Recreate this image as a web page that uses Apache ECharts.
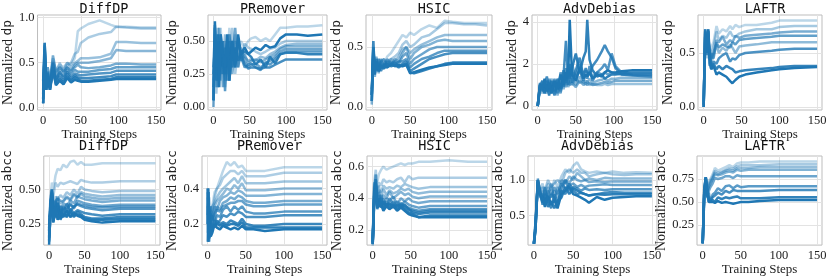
<!DOCTYPE html>
<html><head><meta charset="utf-8">
<script src="https://cdn.jsdelivr.net/npm/echarts@6/dist/echarts.min.js"></script>
<style>html,body{margin:0;padding:0;background:#fff}#c{width:830px;height:277px}</style>
</head><body><div id="c"></div><script>
// ---------- DATA ----------
const xTicks = [0, 50, 100, 150];

const diffdpDpSteps = [0,2,4,6,9,13,17,22,27,32,37,42,46,50,60,75,90,97,110,130,150];
const diffdpDpLines = [
 [0.1,0.6,0.35,0.45,0.3,0.52,0.42,0.48,0.45,0.5,0.48,0.55,0.85,0.88,0.93,0.97,0.92,0.9,0.9,0.89,0.89],
 [0.05,0.7,0.3,0.4,0.25,0.55,0.38,0.5,0.4,0.47,0.5,0.6,0.62,0.72,0.78,0.82,0.84,0.9,0.89,0.88,0.88],
 [0.1,0.65,0.25,0.35,0.3,0.5,0.35,0.45,0.42,0.5,0.45,0.5,0.52,0.55,0.55,0.56,0.6,0.73,0.73,0.72,0.72],
 [0.05,0.7,0.2,0.3,0.25,0.48,0.32,0.42,0.38,0.45,0.4,0.48,0.5,0.5,0.5,0.52,0.55,0.64,0.63,0.63,0.63],
 [0.15,0.72,0.3,0.45,0.3,0.58,0.4,0.45,0.4,0.45,0.42,0.45,0.48,0.45,0.44,0.45,0.47,0.49,0.49,0.48,0.48],
 [0.2,0.6,0.22,0.4,0.2,0.45,0.32,0.38,0.35,0.42,0.38,0.42,0.4,0.4,0.4,0.42,0.43,0.45,0.45,0.45,0.45],
 [0.1,0.68,0.2,0.35,0.25,0.5,0.3,0.4,0.33,0.4,0.35,0.38,0.37,0.36,0.37,0.38,0.39,0.41,0.41,0.41,0.41],
 [0.05,0.55,0.2,0.3,0.22,0.42,0.28,0.35,0.3,0.38,0.32,0.36,0.34,0.33,0.33,0.34,0.35,0.37,0.37,0.37,0.37],
 [0.3,0.72,0.25,0.38,0.2,0.4,0.26,0.32,0.28,0.35,0.3,0.34,0.32,0.3,0.3,0.31,0.32,0.34,0.34,0.34,0.34],
 [0.05,0.65,0.2,0.32,0.2,0.45,0.25,0.3,0.26,0.33,0.28,0.31,0.3,0.29,0.29,0.3,0.31,0.32,0.32,0.32,0.32]
];

const premoverDpSteps = [0,2,4,6,8,10,13,16,19,22,26,30,34,38,43,48,52,58,65,72,78,85,92,100,115,130,150];
const premoverDpLines = [
 [0.3,0.6,0.2,0.55,0.3,0.6,0.25,0.5,0.35,0.6,0.4,0.55,0.35,0.5,0.45,0.5,0.52,0.53,0.5,0.52,0.5,0.55,0.6,0.6,0.61,0.61,0.62],
 [0.2,0.5,0.1,0.4,0.5,0.2,0.45,0.15,0.5,0.3,0.6,0.25,0.45,0.35,0.48,0.45,0.44,0.42,0.4,0.42,0.44,0.45,0.48,0.5,0.5,0.5,0.5],
 [0.1,0.55,0.25,0.6,0.2,0.45,0.3,0.55,0.25,0.55,0.3,0.5,0.3,0.45,0.38,0.35,0.36,0.35,0.38,0.37,0.4,0.42,0.45,0.47,0.48,0.48,0.48],
 [0.3,0.45,0.15,0.35,0.6,0.25,0.5,0.2,0.4,0.55,0.25,0.45,0.4,0.35,0.4,0.33,0.35,0.36,0.34,0.36,0.38,0.4,0.44,0.46,0.46,0.46,0.46],
 [0.0,0.6,0.35,0.2,0.45,0.55,0.15,0.4,0.3,0.45,0.35,0.6,0.3,0.42,0.35,0.3,0.32,0.33,0.3,0.33,0.35,0.38,0.42,0.44,0.44,0.44,0.44],
 [0.15,0.4,0.5,0.15,0.35,0.3,0.5,0.12,0.45,0.35,0.5,0.3,0.5,0.38,0.3,0.32,0.33,0.3,0.28,0.34,0.32,0.36,0.4,0.42,0.42,0.42,0.42],
 [0.25,0.62,0.2,0.45,0.3,0.5,0.25,0.45,0.2,0.5,0.3,0.45,0.35,0.4,0.32,0.29,0.3,0.3,0.29,0.3,0.3,0.32,0.34,0.36,0.36,0.36,0.36],
 [0.05,0.5,0.3,0.55,0.2,0.5,0.35,0.25,0.5,0.2,0.45,0.35,0.5,0.4,0.42,0.4,0.38,0.32,0.36,0.3,0.38,0.33,0.4,0.41,0.41,0.4,0.4],
 [0.05,0.65,0.3,0.5,0.15,0.55,0.4,0.3,0.55,0.2,0.5,0.3,0.55,0.4,0.45,0.4,0.42,0.45,0.43,0.47,0.45,0.46,0.52,0.55,0.55,0.54,0.55]
];

const hsicDpSteps = [0,2,4,6,9,12,16,20,25,30,35,40,45,50,55,65,75,85,95,105,120,135,150];
const hsicDpLines = [
 [0.1,0.5,0.3,0.4,0.3,0.4,0.35,0.42,0.45,0.5,0.55,0.6,0.58,0.62,0.6,0.65,0.68,0.66,0.72,0.71,0.7,0.7,0.7],
 [0.05,0.45,0.28,0.38,0.32,0.38,0.36,0.38,0.4,0.42,0.45,0.52,0.55,0.5,0.52,0.58,0.6,0.65,0.7,0.7,0.69,0.69,0.68],
 [0.1,0.55,0.3,0.35,0.4,0.32,0.38,0.36,0.4,0.38,0.42,0.48,0.5,0.45,0.48,0.52,0.55,0.58,0.6,0.6,0.6,0.6,0.6],
 [0.02,0.5,0.25,0.42,0.28,0.4,0.33,0.38,0.35,0.4,0.38,0.45,0.5,0.4,0.45,0.5,0.52,0.55,0.56,0.55,0.55,0.55,0.55],
 [0.15,0.42,0.35,0.3,0.4,0.35,0.32,0.4,0.36,0.38,0.36,0.42,0.45,0.36,0.4,0.44,0.48,0.5,0.5,0.5,0.5,0.5,0.5],
 [0.05,0.55,0.28,0.36,0.3,0.38,0.4,0.35,0.38,0.35,0.38,0.38,0.4,0.33,0.36,0.4,0.42,0.45,0.47,0.47,0.47,0.47,0.47],
 [0.1,0.48,0.3,0.4,0.35,0.3,0.36,0.33,0.35,0.37,0.34,0.36,0.38,0.3,0.32,0.36,0.4,0.42,0.44,0.45,0.45,0.45,0.45],
 [0.05,0.5,0.32,0.35,0.3,0.35,0.32,0.36,0.34,0.35,0.33,0.35,0.36,0.29,0.28,0.3,0.32,0.34,0.36,0.37,0.37,0.37,0.37],
 [0.1,0.45,0.27,0.38,0.3,0.33,0.35,0.33,0.36,0.34,0.35,0.34,0.35,0.28,0.29,0.31,0.33,0.34,0.35,0.36,0.36,0.36,0.36]
];

const advdebiasDpSteps = [0,3,6,9,12,15,18,22,26,30,34,37,40,42,45,50,55,60,63,65,68,72,78,84,88,92,97,102,110,125,150];
const advdebiasDpLines = [
 [0,0.9,1.1,0.7,0.9,1.0,0.6,1.1,0.8,1.0,1.3,1.0,1.5,1.2,1.0,1.3,1.1,1.2,1.0,1.2,1.0,1.05,1.0,1.0,1.05,1.0,1.05,1.05,1.05,1.05,1.05],
 [0,1.0,0.6,1.1,0.9,0.7,1.3,1.0,0.5,1.2,0.8,1.4,0.9,1.1,1.3,1.0,1.4,1.1,1.2,1.1,1.3,1.1,1.2,1.25,1.3,1.2,1.3,1.3,1.35,1.35,1.35],
 [0,0.8,1.0,0.8,0.6,1.2,0.9,0.6,1.0,0.7,1.2,0.9,1.3,1.0,1.1,0.9,1.2,1.0,1.1,1.0,1.1,1.0,1.05,1.1,1.15,1.1,1.15,1.2,1.2,1.2,1.2],
 [0,1.05,0.8,1.2,0.7,1.3,0.8,1.0,1.2,0.6,1.4,1.1,1.8,1.3,1.6,1.4,2.0,1.5,1.7,1.5,1.6,1.4,1.6,1.5,1.6,1.5,1.6,1.55,1.5,1.5,1.5],
 [0,1.0,0.9,0.6,1.2,1.0,0.7,1.3,0.6,1.6,0.9,1.8,1.0,1.4,2.0,1.3,1.7,1.2,1.5,1.3,1.9,1.2,1.6,1.8,2.0,1.7,2.5,1.9,1.6,1.5,1.5],
 [0,1.1,0.7,1.0,1.4,0.8,1.0,0.5,1.1,0.9,1.5,3.1,1.3,2.0,1.1,1.7,2.3,1.4,1.8,1.6,1.5,1.9,2.2,2.6,2.9,2.6,2.3,1.8,1.5,1.45,1.4],
 [0,0.9,1.2,0.6,1.0,0.5,1.2,0.7,1.3,0.8,1.7,1.2,2.0,1.5,1.8,2.5,1.6,2.3,2.6,4.1,2.2,1.7,1.4,1.5,1.3,1.4,1.5,1.5,1.55,1.6,1.6],
 [0,1.0,0.8,1.3,0.7,1.1,0.6,1.2,0.8,1.5,1.0,1.6,1.4,4.1,1.5,1.2,1.8,1.3,1.5,1.4,1.6,1.3,1.5,1.4,1.6,1.7,1.6,1.6,1.65,1.7,1.7]
];

const laftrDpSteps = [0,2,4,6,8,10,13,17,20,25,30,35,38,42,47,55,70,90,100,120,150];
const laftrDpLines = [
 [0.05,0.65,0.5,0.7,0.45,0.55,0.6,0.75,0.68,0.72,0.7,0.75,0.72,0.76,0.74,0.76,0.76,0.78,0.8,0.8,0.8],
 [0.0,0.7,0.45,0.65,0.4,0.5,0.55,0.7,0.62,0.66,0.64,0.7,0.66,0.65,0.68,0.7,0.72,0.72,0.74,0.75,0.75],
 [0.05,0.6,0.52,0.68,0.45,0.4,0.48,0.58,0.5,0.55,0.52,0.58,0.55,0.5,0.56,0.57,0.58,0.6,0.6,0.6,0.6],
 [0.02,0.68,0.55,0.6,0.5,0.45,0.5,0.62,0.6,0.65,0.58,0.62,0.6,0.66,0.64,0.66,0.67,0.68,0.69,0.7,0.7],
 [0.0,0.72,0.5,0.72,0.38,0.5,0.45,0.6,0.55,0.58,0.56,0.55,0.6,0.58,0.62,0.63,0.64,0.65,0.66,0.66,0.66],
 [0.0,0.7,0.48,0.7,0.4,0.35,0.42,0.4,0.45,0.48,0.5,0.42,0.45,0.44,0.48,0.5,0.51,0.52,0.53,0.54,0.54],
 [0.02,0.72,0.5,0.7,0.45,0.38,0.4,0.35,0.38,0.35,0.38,0.36,0.35,0.32,0.33,0.34,0.35,0.36,0.37,0.38,0.38],
 [0.0,0.65,0.55,0.72,0.5,0.35,0.38,0.3,0.32,0.3,0.28,0.24,0.22,0.25,0.28,0.3,0.32,0.34,0.35,0.36,0.37]
];

const diffdpAbccSteps = [0,2,4,6,9,12,16,20,25,30,35,40,45,50,60,75,100,125,150];
const diffdpAbccLines = [
 [0.2,0.45,0.55,0.5,0.6,0.65,0.64,0.68,0.66,0.7,0.71,0.68,0.7,0.68,0.68,0.69,0.69,0.69,0.69],
 [0.15,0.4,0.5,0.45,0.55,0.52,0.55,0.54,0.55,0.56,0.55,0.54,0.57,0.56,0.55,0.55,0.56,0.56,0.56],
 [0.2,0.45,0.48,0.35,0.45,0.42,0.46,0.44,0.48,0.46,0.5,0.47,0.52,0.5,0.49,0.48,0.49,0.49,0.49],
 [0.25,0.35,0.5,0.3,0.4,0.45,0.4,0.42,0.44,0.42,0.46,0.44,0.48,0.47,0.46,0.45,0.46,0.46,0.46],
 [0.2,0.42,0.47,0.33,0.42,0.43,0.42,0.41,0.45,0.43,0.47,0.45,0.47,0.45,0.44,0.43,0.44,0.44,0.44],
 [0.12,0.4,0.45,0.32,0.38,0.44,0.35,0.4,0.38,0.42,0.4,0.45,0.44,0.43,0.42,0.41,0.42,0.42,0.42],
 [0.3,0.32,0.5,0.28,0.35,0.4,0.32,0.38,0.35,0.4,0.36,0.42,0.41,0.4,0.39,0.38,0.39,0.39,0.39],
 [0.16,0.36,0.49,0.29,0.37,0.41,0.33,0.37,0.36,0.39,0.37,0.4,0.39,0.385,0.375,0.37,0.375,0.375,0.375],
 [0.18,0.42,0.45,0.3,0.42,0.3,0.38,0.33,0.4,0.34,0.38,0.39,0.38,0.37,0.36,0.35,0.36,0.36,0.36],
 [0.15,0.3,0.48,0.27,0.35,0.38,0.3,0.36,0.32,0.36,0.33,0.35,0.34,0.33,0.32,0.31,0.32,0.32,0.32],
 [0.22,0.38,0.5,0.32,0.3,0.4,0.28,0.33,0.3,0.35,0.3,0.34,0.32,0.3,0.29,0.29,0.3,0.3,0.3],
 [0.13,0.33,0.47,0.27,0.33,0.36,0.29,0.32,0.31,0.33,0.31,0.32,0.31,0.29,0.28,0.28,0.285,0.285,0.285],
 [0.1,0.35,0.46,0.26,0.38,0.28,0.34,0.3,0.35,0.3,0.33,0.31,0.3,0.28,0.27,0.26,0.27,0.27,0.27]
];

const premoverAbccSteps = [0,1,2,4,6,9,12,16,20,25,30,35,40,45,50,60,75,100,125,150];
const premoverAbccLines = [
 [0.4,0.12,0.35,0.25,0.3,0.38,0.4,0.45,0.5,0.55,0.53,0.55,0.52,0.53,0.5,0.5,0.5,0.52,0.52,0.52],
 [0.15,0.4,0.2,0.3,0.25,0.35,0.4,0.42,0.46,0.48,0.5,0.5,0.48,0.5,0.47,0.47,0.47,0.49,0.49,0.49],
 [0.35,0.1,0.3,0.22,0.3,0.32,0.35,0.38,0.4,0.42,0.44,0.46,0.43,0.47,0.43,0.43,0.43,0.44,0.44,0.44],
 [0.4,0.15,0.25,0.28,0.22,0.3,0.33,0.35,0.37,0.4,0.39,0.42,0.4,0.43,0.39,0.39,0.39,0.4,0.4,0.4],
 [0.2,0.38,0.12,0.3,0.2,0.3,0.28,0.33,0.35,0.36,0.38,0.37,0.39,0.38,0.36,0.36,0.36,0.37,0.37,0.37],
 [0.3,0.4,0.1,0.25,0.24,0.22,0.3,0.28,0.32,0.33,0.35,0.34,0.36,0.35,0.33,0.32,0.32,0.33,0.33,0.33],
 [0.25,0.3,0.15,0.26,0.22,0.26,0.28,0.27,0.3,0.31,0.32,0.32,0.33,0.33,0.31,0.3,0.3,0.31,0.31,0.31],
 [0.38,0.12,0.3,0.18,0.25,0.2,0.25,0.24,0.28,0.3,0.27,0.3,0.28,0.3,0.27,0.26,0.26,0.27,0.27,0.27],
 [0.1,0.35,0.15,0.22,0.18,0.22,0.2,0.22,0.25,0.24,0.26,0.25,0.27,0.26,0.24,0.24,0.24,0.25,0.25,0.25],
 [0.4,0.15,0.25,0.15,0.2,0.18,0.22,0.2,0.21,0.2,0.22,0.21,0.2,0.23,0.2,0.19,0.19,0.2,0.2,0.2],
 [0.2,0.38,0.12,0.16,0.18,0.19,0.2,0.19,0.2,0.19,0.2,0.2,0.19,0.21,0.18,0.18,0.18,0.18,0.18,0.18],
 [0.3,0.1,0.2,0.13,0.15,0.2,0.18,0.17,0.19,0.18,0.17,0.18,0.17,0.19,0.17,0.17,0.16,0.17,0.17,0.17]
];

const hsicAbccSteps = [0,2,4,6,8,11,14,18,22,27,32,37,42,47,52,60,75,100,125,150];
const hsicAbccLines = [
 [0.12,0.45,0.55,0.5,0.55,0.58,0.6,0.58,0.59,0.6,0.61,0.62,0.61,0.62,0.62,0.63,0.63,0.64,0.63,0.63],
 [0.15,0.5,0.58,0.45,0.5,0.48,0.52,0.5,0.51,0.5,0.52,0.53,0.5,0.54,0.52,0.53,0.53,0.53,0.53,0.53],
 [0.12,0.4,0.52,0.42,0.45,0.44,0.48,0.46,0.47,0.46,0.48,0.47,0.49,0.48,0.47,0.46,0.47,0.47,0.47,0.47],
 [0.1,0.48,0.5,0.38,0.48,0.4,0.46,0.42,0.45,0.43,0.44,0.46,0.45,0.46,0.44,0.43,0.44,0.44,0.44,0.44],
 [0.14,0.42,0.55,0.35,0.44,0.38,0.42,0.4,0.44,0.4,0.42,0.44,0.42,0.43,0.41,0.4,0.41,0.41,0.41,0.41],
 [0.12,0.5,0.45,0.4,0.38,0.42,0.36,0.4,0.38,0.41,0.36,0.4,0.38,0.4,0.38,0.37,0.38,0.38,0.38,0.38],
 [0.11,0.38,0.5,0.34,0.42,0.35,0.4,0.34,0.4,0.36,0.38,0.35,0.38,0.36,0.35,0.34,0.35,0.35,0.35,0.35],
 [0.13,0.45,0.48,0.36,0.35,0.4,0.34,0.38,0.35,0.38,0.34,0.37,0.35,0.34,0.33,0.32,0.33,0.33,0.33,0.33],
 [0.12,0.43,0.5,0.34,0.38,0.37,0.36,0.36,0.36,0.35,0.35,0.36,0.34,0.33,0.32,0.31,0.32,0.32,0.32,0.32],
 [0.12,0.4,0.52,0.33,0.4,0.34,0.38,0.35,0.37,0.34,0.36,0.34,0.36,0.33,0.31,0.3,0.31,0.31,0.31,0.31],
 [0.11,0.42,0.47,0.35,0.36,0.38,0.33,0.36,0.34,0.36,0.33,0.35,0.33,0.31,0.3,0.28,0.29,0.29,0.29,0.29],
 [0.11,0.4,0.46,0.34,0.35,0.36,0.32,0.35,0.33,0.35,0.32,0.34,0.32,0.3,0.29,0.28,0.28,0.28,0.28,0.28]
];

const advdebiasAbccSteps = [0,2,5,8,11,14,18,22,26,30,35,40,45,50,55,60,65,70,80,90,100,115,130,150];
const advdebiasAbccLines = [
 [0.1,0.3,1.0,0.85,0.95,0.8,0.95,0.85,1.0,0.9,1.05,1.15,1.1,1.2,1.25,1.15,1.12,1.1,1.12,1.1,1.12,1.1,1.11,1.1],
 [0.1,0.35,0.98,0.8,0.9,0.85,1.0,0.9,0.95,1.0,0.95,1.1,1.15,1.1,1.15,1.1,1.1,1.05,1.08,1.1,1.08,1.07,1.08,1.08],
 [0.1,0.4,1.0,0.75,0.85,0.7,0.9,0.8,0.85,0.75,1.0,0.95,1.05,1.0,1.1,1.05,1.0,1.02,1.0,1.03,1.02,1.02,1.02,1.02],
 [0.1,0.3,0.95,0.82,0.7,0.85,0.75,0.95,0.7,0.9,0.8,1.0,0.95,1.05,1.0,0.98,1.0,0.97,0.98,0.97,0.98,0.98,0.98,0.98],
 [0.1,0.35,1.02,0.78,0.8,0.65,0.85,0.75,0.9,0.8,0.95,0.88,0.92,0.95,0.9,0.93,0.9,0.92,0.93,0.94,0.93,0.93,0.93,0.93],
 [0.1,0.4,0.98,0.8,0.72,0.9,0.68,0.8,0.75,0.65,0.9,1.0,0.85,0.9,0.88,0.85,0.88,0.86,0.87,0.86,0.87,0.87,0.87,0.87],
 [0.1,0.3,1.0,0.85,0.65,0.8,0.7,0.6,0.8,0.68,0.85,0.8,0.95,0.85,0.8,0.82,0.8,0.78,0.8,0.82,0.83,0.82,0.82,0.82],
 [0.1,0.3,1.0,0.78,0.68,0.75,0.62,0.7,0.6,0.7,0.75,0.9,0.8,0.88,0.85,0.82,0.8,0.78,0.8,0.79,0.8,0.8,0.8,0.8],
 [0.1,0.35,0.97,0.8,0.75,0.62,0.78,0.65,0.72,0.6,0.8,0.85,0.9,0.8,0.78,0.75,0.72,0.68,0.76,0.72,0.75,0.76,0.77,0.77]
];

const laftrAbccSteps = [0,2,4,6,8,10,13,16,20,25,30,35,40,45,50,60,75,100,125,150];
const laftrAbccLines = [
 [0.05,0.6,0.77,0.65,0.72,0.75,0.8,0.87,0.84,0.86,0.88,0.9,0.88,0.92,0.93,0.93,0.94,0.94,0.94,0.94],
 [0.05,0.55,0.75,0.62,0.7,0.72,0.78,0.84,0.82,0.83,0.85,0.87,0.86,0.89,0.9,0.9,0.9,0.91,0.91,0.91],
 [0.05,0.65,0.76,0.6,0.68,0.7,0.76,0.82,0.8,0.82,0.84,0.85,0.84,0.87,0.87,0.87,0.88,0.88,0.88,0.88],
 [0.05,0.6,0.74,0.6,0.66,0.68,0.75,0.8,0.79,0.8,0.82,0.83,0.82,0.85,0.84,0.85,0.85,0.85,0.85,0.85],
 [0.05,0.65,0.77,0.55,0.62,0.66,0.7,0.76,0.75,0.76,0.78,0.78,0.76,0.79,0.78,0.78,0.78,0.78,0.78,0.78],
 [0.05,0.6,0.76,0.55,0.6,0.5,0.58,0.6,0.65,0.62,0.67,0.68,0.65,0.68,0.66,0.67,0.67,0.67,0.67,0.67],
 [0.05,0.62,0.77,0.6,0.55,0.52,0.55,0.57,0.6,0.58,0.62,0.6,0.63,0.62,0.62,0.62,0.62,0.63,0.63,0.63],
 [0.05,0.55,0.76,0.58,0.5,0.48,0.52,0.5,0.55,0.53,0.55,0.54,0.55,0.56,0.54,0.54,0.54,0.55,0.55,0.55],
 [0.05,0.6,0.77,0.62,0.5,0.48,0.5,0.49,0.51,0.49,0.5,0.49,0.48,0.49,0.5,0.5,0.51,0.52,0.52,0.52]
];

const dpTicks = { diffdp:[0,0.5,1.0], premover:[0,0.25,0.5], hsic:[0,0.5], advdebias:[0,2,4], laftr:[0,0.5] };
const abccTicks = { diffdp:[0.25,0.5], premover:[0.2,0.4], hsic:[0.2,0.4,0.6], advdebias:[0.5,1.0], laftr:[0.25,0.5,0.75] };

// ---------- LAYOUT / STYLE ----------
const panels = [
 {title:'DiffDP', m:'dp', steps:diffdpDpSteps, lines:diffdpDpLines, ticks:dpTicks.diffdp, dec:1, l:37, r:161, t:15, b:110, ymin:-0.025, ymax:1.03, gap:20, aMin:0.3},
 {title:'PRemover', m:'dp', steps:premoverDpSteps, lines:premoverDpLines, ticks:dpTicks.premover, dec:2, l:208, r:327, t:15, b:110, ymin:-0.023, ymax:0.697, gap:28, aMin:0.3},
 {title:'HSIC', m:'dp', steps:hsicDpSteps, lines:hsicDpLines, ticks:dpTicks.hsic, dec:1, l:366, r:492, t:15, b:110, ymin:-0.025, ymax:0.767, gap:19, aMin:0.3},
 {title:'AdvDebias', m:'dp', steps:advdebiasDpSteps, lines:advdebiasDpLines, ticks:dpTicks.advdebias, dec:0, l:532, r:657, t:15, b:110, ymin:-0.19, ymax:4.33, gap:10, aMin:0.45},
 {title:'LAFTR', m:'dp', steps:laftrDpSteps, lines:laftrDpLines, ticks:dpTicks.laftr, dec:1, l:698, r:822, t:15, b:110, ymin:-0.028, ymax:0.852, gap:21, aMin:0.3},
 {title:'DiffDP', m:'abcc', steps:diffdpAbccSteps, lines:diffdpAbccLines, ticks:abccTicks.diffdp, dec:2, l:37, r:160, t:156, b:248, ymin:0.097, ymax:0.743, gap:22, aMin:0.3},
 {title:'PRemover', m:'abcc', steps:premoverAbccSteps, lines:premoverAbccLines, ticks:abccTicks.premover, dec:1, l:202, r:327, t:156, b:248, ymin:0.081, ymax:0.584, gap:20, aMin:0.3},
 {title:'HSIC', m:'abcc', steps:hsicAbccSteps, lines:hsicAbccLines, ticks:abccTicks.hsic, dec:1, l:367, r:492, t:156, b:248, ymin:0.103, ymax:0.667, gap:20, aMin:0.3},
 {title:'AdvDebias', m:'abcc', steps:advdebiasAbccSteps, lines:advdebiasAbccLines, ticks:abccTicks.advdebias, dec:1, l:528, r:657, t:156, b:248, ymin:0.081, ymax:1.338, gap:19, aMin:0.35},
 {title:'LAFTR', m:'abcc', steps:laftrAbccSteps, lines:laftrAbccLines, ticks:abccTicks.laftr, dec:2, l:697, r:822, t:156, b:248, ymin:0.03, ymax:1.0, gap:23, aMin:0.3}
];

const SERIF = 'Liberation Serif, DejaVu Serif, serif';
const MONO = 'DejaVu Sans Mono, Liberation Mono, monospace';
const TXT = '#222';
const grids = [], xAxes = [], yAxes = [], series = [], titles = [];

panels.forEach((p, i) => {
  grids.push({left:p.l, top:p.t, width:p.r-p.l, height:p.b-p.t, show:true, borderColor:'#bdbdbd', borderWidth:1, backgroundColor:'#fff', containLabel:false});
  titles.push({text:p.title, left:(p.l+p.r)/2, top:p.t-(p.t > 100 ? 22 : 18), textAlign:'center',
    textStyle:{fontFamily:MONO, fontSize:13.5, fontWeight:'normal', color:'#111'}});
  xAxes.push({type:'value', gridIndex:i, min:-7.5, max:156.5,
    name:'Training Steps', nameLocation:'middle', nameGap:17,
    nameTextStyle:{fontFamily:SERIF, fontSize:13, color:TXT},
    axisLine:{show:false}, axisTick:{show:false, customValues:xTicks},
    axisLabel:{customValues:xTicks, fontFamily:SERIF, fontSize:12.5, color:TXT, margin:4, formatter:v=>String(Math.round(v))},
    splitLine:{show:true, lineStyle:{color:'#e3e3e3', width:1}}});
  yAxes.push({type:'value', gridIndex:i, min:p.ymin, max:p.ymax,
    name:'{a|Normalized }{b|'+p.m+'}', nameLocation:'middle', nameRotate:90, nameGap:p.gap,
    nameTextStyle:{rich:{a:{fontFamily:SERIF, fontSize:14, color:TXT}, b:{fontFamily:MONO, fontSize:13, color:TXT}}},
    axisLine:{show:false}, axisTick:{show:false, customValues:p.ticks},
    axisLabel:{customValues:p.ticks, fontFamily:SERIF, fontSize:12.5, color:TXT, margin:3, formatter:v=>v.toFixed(p.dec)},
    splitLine:{show:true, lineStyle:{color:'#e3e3e3', width:1}}});
  const n = p.lines.length;
  p.lines.forEach((ys, k) => {
    const a = p.aMin + (1 - p.aMin) * (n === 1 ? 1 : k/(n-1));
    series.push({type:'line', xAxisIndex:i, yAxisIndex:i, showSymbol:false, symbol:'none', silent:true,
      data: p.steps.map((x, j) => [x, ys[j]]),
      lineStyle:{color:'#1f77b4', width:2.5, opacity:a}, z:2+k, animation:false});
  });
});

const chart = echarts.init(document.getElementById('c'), null, {renderer:'canvas'});
chart.setOption({animation:false, title:titles, grid:grids, xAxis:xAxes, yAxis:yAxes, series:series});
</script></body></html>
